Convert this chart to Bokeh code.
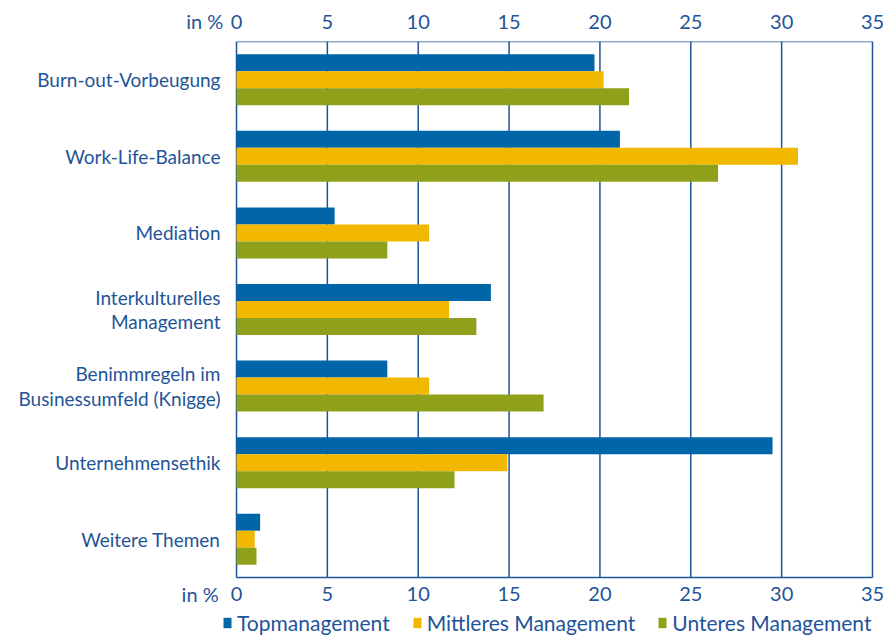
from bokeh.plotting import figure
from bokeh.models import (Range1d, LinearAxis, FixedTicker, Legend, LegendItem,
                          ColumnDataSource)
from bokeh.core.properties import value
from bokeh.transform import dodge
from bokeh.embed import file_html
from bokeh.resources import INLINE

categories = ["Burn-out-Vorbeugung", "Work-Life-Balance", "Mediation",
              "Interkulturelles\nManagement", "Benimmregeln im\nBusinessumfeld (Knigge)",
              "Unternehmensethik", "Weitere Themen"]
series_names = ["Topmanagement", "Mittleres Management", "Unteres Management"]
top_mgmt = [19.7, 21.1, 5.4, 14.0, 8.3, 29.5, 1.3]
mid_mgmt = [20.2, 30.9, 10.6, 11.7, 10.6, 14.9, 1.0]
low_mgmt = [21.6, 26.5, 8.3, 13.2, 16.9, 12.0, 1.1]
x_ticks = [0, 5, 10, 15, 20, 25, 30, 35]
unit_label = "in %"

colors = ["#0066a8", "#f2b800", "#8fa01a"]
text_color = "#1f5499"
line_color = "#1f5499"
font = "Lato"

# layout constants (pixels)
W, H = 884, 635
top_px, box_h = 41, 536
x0_px, x35_px = 236, 872
ppu = (x35_px - x0_px) / 35.0
n = len(categories)
upp = box_h / n
xr = Range1d(-x0_px / ppu, 35 + (W - x35_px) / ppu)
yr = Range1d(-(H - top_px - box_h) / upp, n)

ypos = [n - i - 0.5 for i in range(n)]
src = ColumnDataSource(dict(cat=categories, y=ypos, top=top_mgmt, mid=mid_mgmt, low=low_mgmt))

p = figure(frame_width=W, frame_height=H - top_px, output_backend="svg", toolbar_location=None,
           x_range=xr, y_range=yr, x_axis_location=None, y_axis_location=None,
           min_border_left=0, min_border_right=0, min_border_top=top_px, min_border_bottom=0)
p.outline_line_color = None
p.xgrid.grid_line_color = None
p.ygrid.grid_line_color = None

# grid lines and box (bounded to the plotting box)
p.segment(x0=x_ticks, x1=x_ticks, y0=[0] * len(x_ticks), y1=[n] * len(x_ticks),
          line_color=line_color, line_width=1.5)
p.segment(x0=[0, 0], x1=[35, 35], y0=[0, n], y1=[0, n], line_color=line_color, line_width=1.5)

bh = 0.222
cols = ["top", "mid", "low"]
offsets = [bh, 0, -bh]
renderers = []
for c, off, col in zip(cols, offsets, colors):
    r = p.hbar(y=dodge("y", off), right=c, left=0, height=bh,
               source=src, fill_color=col, line_color=None)
    renderers.append(r)

# top axis (real axis, with unit label as an extra tick)
unit_pos_top = -1.75
ax = LinearAxis(ticker=FixedTicker(ticks=[unit_pos_top] + x_ticks))
ax.major_label_overrides = {unit_pos_top: unit_label}
ax.axis_line_color = None
ax.major_tick_line_color = None
ax.minor_tick_line_color = None
ax.major_tick_out = 0
ax.major_tick_in = 0
ax.axis_label_standoff = 0
ax.major_label_text_font = font
ax.major_label_text_font_size = "20px"
ax.major_label_text_color = text_color
ax.major_label_standoff = 9
p.add_layout(ax, "above")

# bottom tick labels
bottom_y = -16 / upp
p.text(x=x_ticks + [-2.0], y=[bottom_y] * (len(x_ticks) + 1),
       text=[str(t) for t in x_ticks] + [unit_label], text_align="center",
       text_baseline="middle", text_font=value(font), text_font_size="20px",
       text_color=text_color)

# category labels left of the box
p.text(x=-16 / ppu, y="y", text="cat", source=src, text_align="right",
       text_baseline="middle", text_font=value(font), text_font_size="19px",
       text_color=text_color, text_line_height=1.05)

legend = Legend(items=[LegendItem(label=nm, renderers=[r]) for nm, r in zip(series_names, renderers)],
                orientation="horizontal", location=(222, 0))
legend.label_text_font = font
legend.label_text_font_size = "21px"
legend.label_text_color = text_color
legend.glyph_width = 10
legend.glyph_height = 13
legend.label_height = 13
legend.spacing = 22
legend.label_standoff = 5
legend.padding = 0
legend.margin = 0
legend.border_line_color = None
legend.background_fill_alpha = 0
p.add_layout(legend, "center")

open("out.html", "w").write(file_html(p, INLINE))
